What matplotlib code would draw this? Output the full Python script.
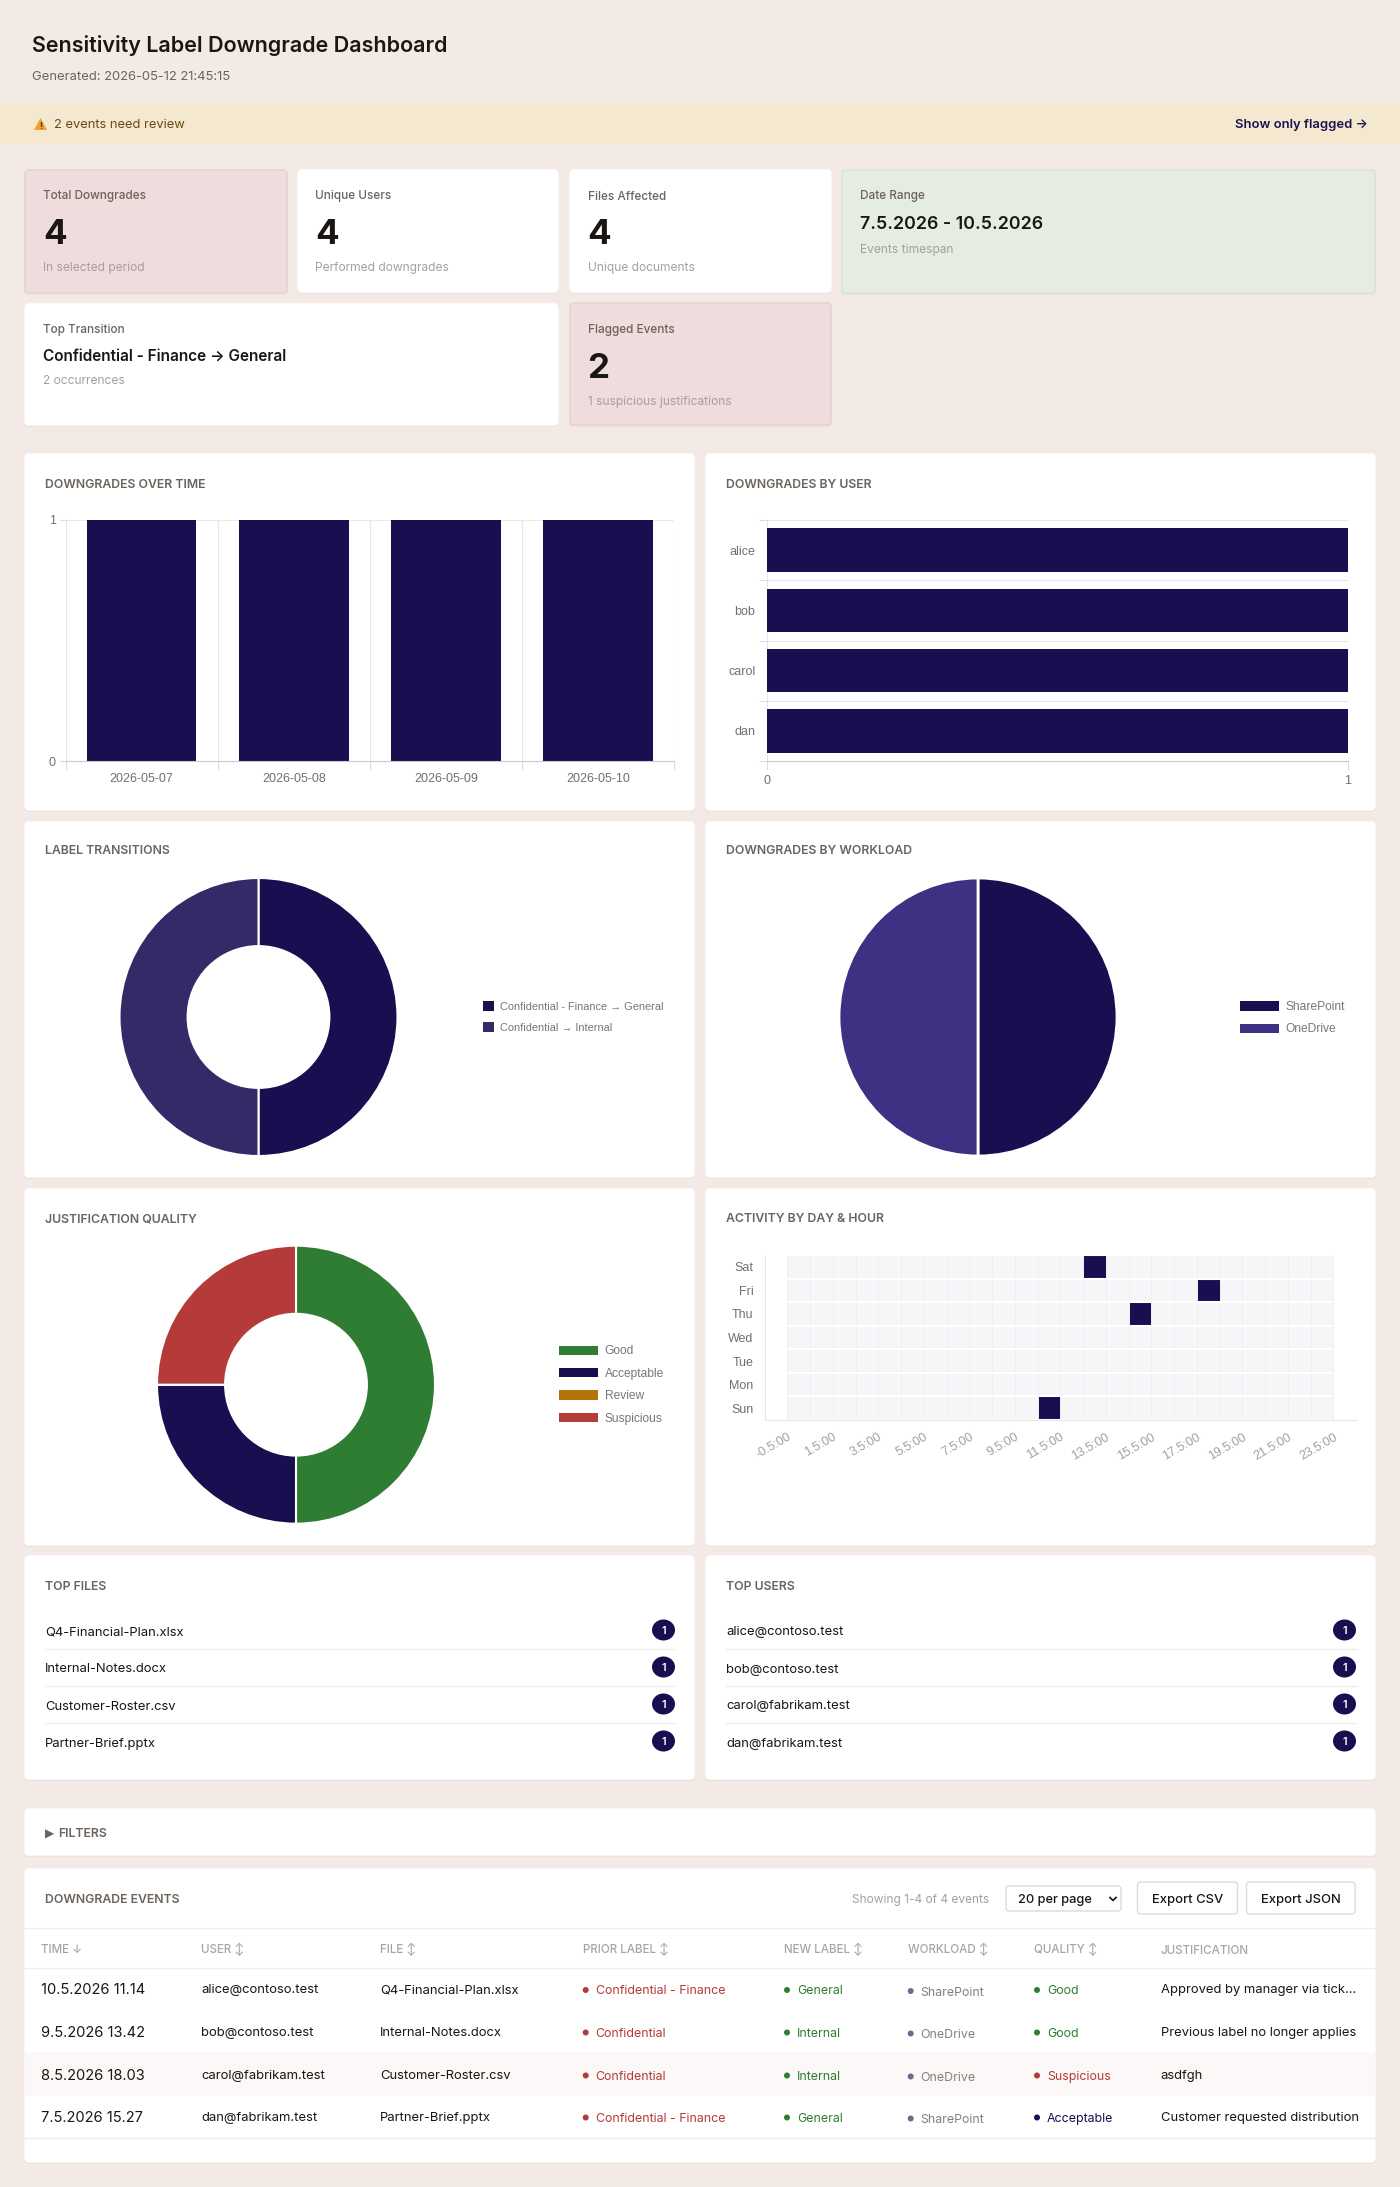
import numpy as np
import matplotlib
matplotlib.use("Agg")
import matplotlib.pyplot as plt
from matplotlib.colors import LinearSegmentedColormap
from matplotlib.patches import Circle, Ellipse, FancyBboxPatch, Polygon, Rectangle

W, H = 1400, 2187
DPI = 100

NAVY = "#170f50"
INK = "#1a1614"
MUTED = "#a5a09c"
LABEL = "#6b635c"
CHART_TEXT = "#6e7079"

# chart data
dates = ["2026-05-07", "2026-05-08", "2026-05-09", "2026-05-10"]
date_counts = [1, 1, 1, 1]

users = ["alice", "bob", "carol", "dan"]
user_counts = [1, 1, 1, 1]

transitions = ["Confidential - Finance \u2192 General", "Confidential \u2192 Internal"]
transition_counts = [2, 2]

workloads = ["SharePoint", "OneDrive"]
workload_counts = [2, 2]

qualities = ["Good", "Acceptable", "Review", "Suspicious"]
quality_counts = [2, 1, 0, 1]
quality_colors = ["#2e7d32", NAVY, "#b5730a", "#b53a3a"]

days = ["Sun", "Mon", "Tue", "Wed", "Thu", "Fri", "Sat"]
hour_ticks = [-0.5, 1.5, 3.5, 5.5, 7.5, 9.5, 11.5, 13.5, 15.5, 17.5, 19.5, 21.5, 23.5]
event_days = ["Sun", "Sat", "Fri", "Thu"]
event_hours = [11, 13, 18, 15]

top_files = ["Q4-Financial-Plan.xlsx", "Internal-Notes.docx", "Customer-Roster.csv", "Partner-Brief.pptx"]
top_file_counts = [1, 1, 1, 1]
top_users = ["alice@contoso.test", "bob@contoso.test", "carol@fabrikam.test", "dan@fabrikam.test"]
top_user_counts = [1, 1, 1, 1]

# event table columns
col_time = ["10.5.2026 11.14", "9.5.2026 13.42", "8.5.2026 18.03", "7.5.2026 15.27"]
col_user = top_users
col_file = top_files
col_prior = ["Confidential - Finance", "Confidential", "Confidential", "Confidential - Finance"]
col_new = ["General", "Internal", "Internal", "General"]
col_workload = ["SharePoint", "OneDrive", "OneDrive", "SharePoint"]
col_quality = ["Good", "Good", "Suspicious", "Acceptable"]
col_just = ["Approved by manager via tick...", "Previous label no longer applies", "asdfgh",
            "Customer requested distribution"]
headers = ["TIME \u2193", "USER \u2195", "FILE \u2195", "PRIOR LABEL \u2195", "NEW LABEL \u2195",
           "WORKLOAD \u2195", "QUALITY \u2195", "JUSTIFICATION"]

plt.rcParams["font.family"] = ["Inter", "DejaVu Sans"]

fig = plt.figure(figsize=(W / DPI, H / DPI), dpi=DPI, facecolor="#f3eae6")

# page layer in pixel coordinates
page = fig.add_axes([0, 0, 1, 1], zorder=0)
page.set_xlim(0, W)
page.set_ylim(H, 0)
page.axis("off")


def txt(x, y, s, px, color=INK, weight="normal", ha="left", family=None, zorder=5):
    kw = {"family": family} if family else {}
    return page.text(x, y, s, fontsize=px * 0.72, color=color, weight=weight, ha=ha,
                     va="center_baseline", zorder=zorder, **kw)


def card(x0, y0, x1, y1, face="white", edge=None, radius=4):
    # faint shadow under the card
    page.add_patch(FancyBboxPatch((x0 - 1, y0), x1 - x0 + 2, y1 - y0 + 2, boxstyle=f"round,pad=0,rounding_size={radius}",
                                  fc="#ebe2dd", ec="none", zorder=1))
    page.add_patch(FancyBboxPatch((x0, y0), x1 - x0, y1 - y0, boxstyle=f"round,pad=0,rounding_size={radius}",
                                  fc=face, ec=edge or face, lw=1, zorder=2))


def sub_axes(x0, y0, x1, y1):
    ax = fig.add_axes([x0 / W, 1 - y1 / H, (x1 - x0) / W, (y1 - y0) / H], zorder=3)
    ax.patch.set_alpha(0)
    return ax


def section(x, y, s):
    txt(x, y, s, 12.3, LABEL, weight="semibold")


# header and banner
txt(32, 43.5, "Sensitivity Label Downgrade Dashboard", 21.5, INK, weight="semibold")
txt(32, 75, "Generated: 2026-05-12 21:45:15", 13, LABEL)
page.add_patch(Rectangle((0, 103), W, 42, fc="#f4e8d0", ec="none", zorder=1))
page.add_patch(Polygon([(34, 130), (47, 130), (40.5, 118)], closed=True, fc="#f0a030", ec="none", zorder=2, joinstyle="round"))
txt(40.5, 125.5, "!", 9, "#5a3a10", weight="bold", ha="center")
txt(54, 123.5, "2 events need review", 12.9, "#6b4a10")
txt(1368, 123.5, "Show only flagged \u2192", 13, "#1d1250", weight="semibold", ha="right")

# stat cards
PINK, PINK_EDGE = "#efdcdd", "#e6d0d1"
GREEN, GREEN_EDGE = "#e5ece0", "#d9e2d4"
card(25, 170, 287, 293, PINK, PINK_EDGE)
card(298, 170, 558, 292)
card(570, 170, 831, 292)
card(842, 170, 1375, 293, GREEN, GREEN_EDGE)
card(25, 304, 558, 425)
card(570, 303, 831, 425, PINK, PINK_EDGE)

for x, label, value, note in [(43, "Total Downgrades", "4", "In selected period"),
                              (315, "Unique Users", "4", "Performed downgrades"),
                              (587.5, "Files Affected", "4", "Unique documents")]:
    txt(x, 195, label, 11.8, LABEL, weight="medium")
    txt(x, 232, value, 35, INK, weight="bold")
    txt(x, 267, note, 12, MUTED)

txt(860, 195, "Date Range", 11.8, LABEL, weight="medium")
txt(860, 222.5, "7.5.2026 - 10.5.2026", 17.8, INK, weight="semibold")
txt(860, 248, "Events timespan", 12, MUTED)

txt(43, 329, "Top Transition", 11.8, LABEL, weight="medium")
txt(43, 355, transitions[0], 15.3, INK, weight="semibold")
txt(43, 379, "2 occurrences", 12, MUTED)

txt(587.5, 329, "Flagged Events", 11.8, LABEL, weight="medium")
txt(587.5, 366, "2", 35, INK, weight="bold")
txt(587.5, 400, "1 suspicious justifications", 12, MUTED)

# chart panels
LEFT = (25, 694)
RIGHT = (706, 1375)
for y0, y1 in [(454, 810), (822, 1177), (1189, 1545), (1556, 1779)]:
    card(LEFT[0], y0, LEFT[1], y1)
    card(RIGHT[0], y0, RIGHT[1], y1)

section(45, 483, "DOWNGRADES OVER TIME")
section(726, 483, "DOWNGRADES BY USER")
section(45, 850, "LABEL TRANSITIONS")
section(726, 850, "DOWNGRADES BY WORKLOAD")
section(45, 1218, "JUSTIFICATION QUALITY")
section(726, 1218, "ACTIVITY BY DAY & HOUR")
section(45, 1585, "TOP FILES")
section(726, 1585, "TOP USERS")


def chart_style(ax):
    for side in ax.spines:
        ax.spines[side].set_visible(False)
    ax.set_axisbelow(True)
    ax.tick_params(which="both", labelsize=9, labelcolor=CHART_TEXT)
    for label in ax.get_xticklabels() + ax.get_yticklabels():
        label.set_family(["Liberation Sans", "DejaVu Sans"])


# downgrades over time
ax = sub_axes(65.6, 520, 674, 761)
x_pos = np.arange(len(dates))
ax.bar(x_pos, date_counts, width=0.72, color=NAVY)
ax.set_xlim(-0.5, len(dates) - 0.5)
ax.set_ylim(0, 1)
ax.set_xticks(x_pos, dates)
ax.set_yticks([0, 1])
ax.set_xticks(np.arange(len(dates) + 1) - 0.5, minor=True)
ax.grid(which="minor", axis="x", color="#e6e6e6", lw=0.8)
ax.grid(which="major", axis="y", color="#eaeaea", lw=0.8)
ax.tick_params(axis="x", which="major", length=0, pad=9)
ax.tick_params(axis="x", which="minor", length=6.5, width=0.8, color="#dddddd")
ax.tick_params(axis="y", length=4, width=0.8, color="#dddddd", pad=3)
chart_style(ax)
ax.spines["bottom"].set_visible(True)
ax.spines["bottom"].set_color("#cccccc")

# downgrades by user
ax = sub_axes(766.5, 520, 1348, 761)
y_pos = np.arange(len(users))
ax.barh(y_pos, user_counts, height=0.72, color=NAVY)
ax.set_xlim(0, 1)
ax.set_ylim(len(users) - 0.5, -0.5)
ax.set_yticks(y_pos, users)
ax.set_xticks([0, 1])
ax.set_yticks(np.arange(len(users) + 1) - 0.5, minor=True)
ax.grid(which="minor", axis="y", color="#e6e6e6", lw=0.8)
ax.grid(which="major", axis="x", color="#e6e6e6", lw=0.8)
ax.tick_params(axis="y", which="major", length=0, pad=8)
ax.tick_params(axis="y", which="minor", length=6, width=0.8, color="#dddddd")
ax.tick_params(axis="x", length=6.5, width=0.8, color="#dddddd", pad=3.5)
chart_style(ax)
ax.spines["bottom"].set_visible(True)
ax.spines["bottom"].set_color("#cccccc")


def donut(cx, cy, r, values, colors, hole, edge_lw):
    ax = sub_axes(cx - r, cy - r, cx + r, cy + r)
    props = {"edgecolor": "white", "linewidth": edge_lw}
    if hole:
        props["width"] = 1 - hole
    wedges, _ = ax.pie(values, colors=colors, startangle=90, counterclock=False, radius=1, wedgeprops=props)
    ax.set_xlim(-1, 1)
    ax.set_ylim(-1, 1)
    return ax, wedges


def side_legend(ax, wedges, labels, x, y, handle_px, text_px, pitch_px, gap_px, swatch_h):
    size_pt = text_px * 0.72
    leg = ax.legend(wedges, labels, loc="upper left", bbox_to_anchor=(x, y), bbox_transform=page.transData,
                    frameon=False, borderpad=0, borderaxespad=0, fontsize=size_pt,
                    handlelength=handle_px / text_px, handleheight=swatch_h / text_px,
                    handletextpad=gap_px / text_px, labelspacing=(pitch_px - swatch_h) / text_px,
                    labelcolor="#777777", prop={"family": ["Liberation Sans", "DejaVu Sans"], "size": size_pt})
    for handle in leg.get_patches():
        handle.set_linewidth(0)
    return leg


ax, wedges = donut(258.5, 1017, 139, transition_counts, [NAVY, "#352a68"], 0.51, 1.5)
side_legend(ax, wedges, transitions, 483, 1001, 11, 11, 21.7, 6, 12)

ax, wedges = donut(978, 1017, 139, workload_counts, [NAVY, "#3e3184"], None, 2)
side_legend(ax, wedges, workloads, 1240, 1001, 38.5, 12, 20.4, 7, 10)

ax, wedges = donut(296, 1384.7, 139, quality_counts, quality_colors, 0.51, 1.5)
side_legend(ax, wedges, qualities, 559, 1345.5, 38.5, 12, 20.4, 7, 10)

# activity heatmap
activity = np.zeros((len(days), 24))
for day, hour in zip(event_days, event_hours):
    activity[days.index(day), hour] = 1

ax = sub_axes(764.7, 1255, 1356, 1420)
cmap = LinearSegmentedColormap.from_list("activity", ["#f6f6f8", NAVY])
ax.pcolormesh(np.arange(25) - 0.5, np.arange(8) - 0.5, activity, cmap=cmap, vmin=0, vmax=1,
              edgecolors="#eeeef2", linewidth=0.6)
ax.hlines(np.arange(8) - 0.5, -0.5, 23.5, color="white", lw=1.5)
ax.set_xlim(-1.5, 24.5)
ax.set_ylim(-0.5, 6.5)
ax.set_yticks(np.arange(len(days)), days)
ax.set_xticks(hour_ticks, [f"{h}:00" for h in hour_ticks], rotation=30, ha="right", rotation_mode="anchor")
ax.tick_params(axis="both", length=0)
ax.tick_params(axis="y", pad=8)
ax.tick_params(axis="x", pad=8)
chart_style(ax)
for side in ("left", "bottom"):
    ax.spines[side].set_visible(True)
    ax.spines[side].set_color("#e6e6e6")
for label in ax.get_xticklabels():
    label.set_color("#a0a0a5")


def count_list(x0, x1, names, counts):
    for i, (name, count) in enumerate(zip(names, counts)):
        y = 1631 + 37 * i
        txt(x0, y, name, 13, INK)
        page.add_patch(Ellipse((x1 - 11.5, y - 1), 23, 21, fc=NAVY, ec="none", zorder=4))
        txt(x1 - 11.5, y - 1, str(count), 11, "white", weight="semibold", ha="center")
        if i < len(names) - 1:
            page.plot([x0, x1], [y + 18.3, y + 18.3], color="#efedec", lw=1, zorder=4)


count_list(45, 675, top_files, top_file_counts)
count_list(726, 1356, top_users, top_user_counts)

# filters strip
card(25, 1809, 1375, 1855)
txt(45, 1833, "\u25b6", 12, LABEL, family=["DejaVu Sans"])
txt(58.5, 1832.5, "FILTERS", 12.3, LABEL, weight="semibold")

# events table
card(25, 1869, 1375, 2162)
section(45, 1898.5, "DOWNGRADE EVENTS")
txt(989, 1899, "Showing 1-4 of 4 events", 11.9, MUTED, ha="right")


def button(x0, x1, y0, y1, label, center=True):
    page.add_patch(FancyBboxPatch((x0, y0), x1 - x0, y1 - y0, boxstyle="round,pad=0,rounding_size=3",
                                  fc="white", ec="#dfdbd8", lw=1, zorder=4))
    if center:
        txt((x0 + x1) / 2, (y0 + y1) / 2, label, 13, INK, weight="medium", ha="center")


button(1006, 1121, 1886, 1911, "", center=False)
txt(1018, 1899, "20 per page", 12.8, INK, weight="medium")
page.plot([1110, 1113, 1116], [1897.5, 1900.5, 1897.5], color=INK, lw=1.2, zorder=5)
button(1137.5, 1237.5, 1882, 1914, "Export CSV")
button(1246.5, 1355, 1882, 1914, "Export JSON")

page.plot([25, 1375], [1928, 1928], color="#efedec", lw=1, zorder=4)
page.plot([25, 1375], [1968, 1968], color="#efedec", lw=1, zorder=4)
page.plot([25, 1375], [2138, 2138], color="#efedec", lw=1, zorder=4)
page.add_patch(Rectangle((25, 2052), 1350, 44, fc="#fbf8f7", ec="none", zorder=3))

header_x = [41, 201, 380, 582.6, 783.5, 908.5, 1033.5, 1160.7]
for x, head in zip(header_x, headers):
    y = 1948 if "\u2195" in head or "\u2193" in head else 1949
    txt(x, y, head, 11.6, "#a9a49f", weight="medium")

row_y = [1989, 2031.5, 2074.5, 2116.5]
RED, DKGREEN, GREY = "#b53a3a", "#2e7d32", "#6f6a8a"
label_colors = {"Confidential - Finance": RED, "Confidential": RED, "General": DKGREEN, "Internal": DKGREEN}
quality_text = {"Good": DKGREEN, "Suspicious": RED, "Acceptable": NAVY}


def pill(x, y, s, color, text_color=None):
    page.add_patch(Circle((x, y + 1), 3, fc=color, ec="none", zorder=5))
    txt(x + 10, y + 1, s, 12.4, text_color or color)


for i, y in enumerate(row_y):
    txt(41, y, col_time[i], 14.7, INK)
    txt(201, y, col_user[i], 13, INK)
    txt(380, y, col_file[i], 13, INK)
    pill(585.7, y, col_prior[i], label_colors[col_prior[i]])
    pill(787, y, col_new[i], label_colors[col_new[i]])
    pill(910.7, y + 1, col_workload[i], GREY, "#85807c")
    pill(1037, y, col_quality[i], quality_text[col_quality[i]])
    txt(1160.7, y, col_just[i], 13, INK)

fig.savefig("out.png", dpi=DPI, facecolor=fig.get_facecolor())
